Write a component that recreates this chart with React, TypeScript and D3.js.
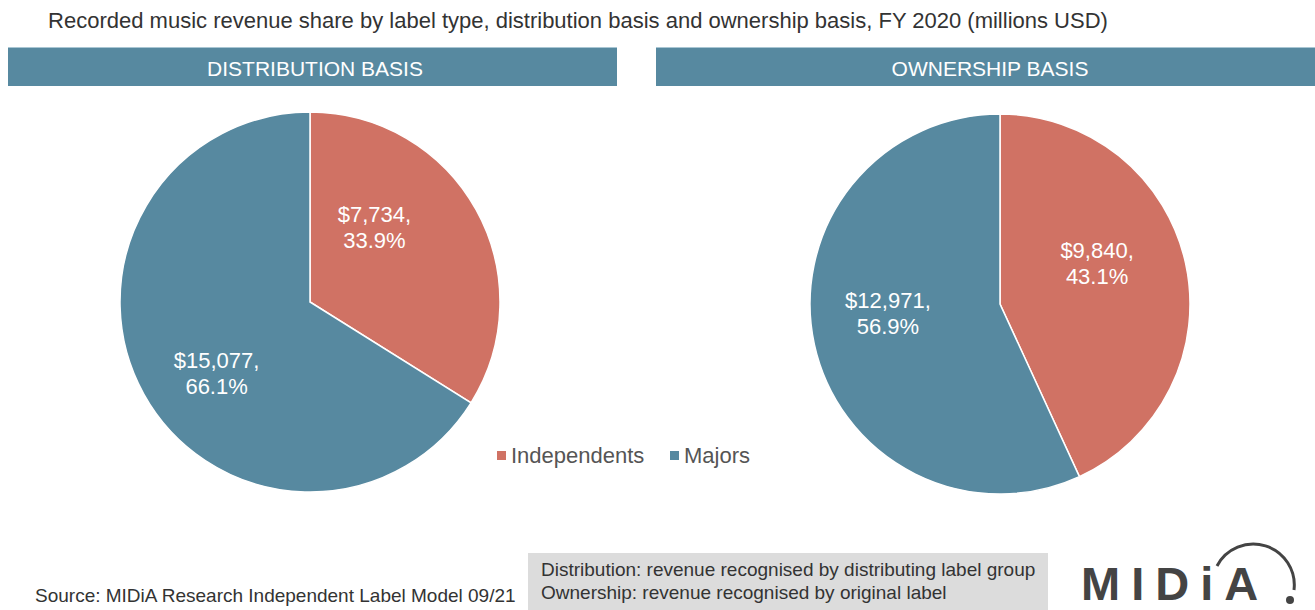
import React from "react";
import * as d3 from "d3";

const categories = ["Independents", "Majors"];
const distributionValues = [7734, 15077];
const distributionShares = ["33.9%", "66.1%"];
const ownershipValues = [9840, 12971];
const ownershipShares = ["43.1%", "56.9%"];
const panelTitles = ["DISTRIBUTION BASIS", "OWNERSHIP BASIS"];
const title =
  "Recorded music revenue share by label type, distribution basis and ownership basis, FY 2020 (millions USD)";
const source = "Source: MIDiA Research Independent Label Model 09/21";
const notes = [
  "Distribution: revenue recognised by distributing label group",
  "Ownership: revenue recognised by original label",
];

const COLORS = ["#d07264", "#5789a0"];
const FONT = "'Liberation Sans', Arial, Helvetica, sans-serif";

type PieProps = {
  cx: number;
  cy: number;
  r: number;
  values: number[];
  shares: string[];
  nudges: [number, number][];
};

function Pie({ cx, cy, r, values, shares, nudges }: PieProps) {
  const pie = d3.pie<number>().sort(null).value((d) => d);
  const arcs = pie(values);
  const arc = d3.arc<d3.PieArcDatum<number>>().innerRadius(0).outerRadius(r);
  const labelArc = d3
    .arc<d3.PieArcDatum<number>>()
    .innerRadius(r * 0.55)
    .outerRadius(r * 0.55);
  const fmt = d3.format("$,");
  return (
    <g transform={`translate(${cx},${cy})`}>
      {arcs.map((a, i) => (
        <path key={i} d={arc(a) || ""} fill={COLORS[i]} stroke="#fff" strokeWidth={1.5} />
      ))}
      {arcs.map((a, i) => {
        const [x, y] = labelArc.centroid(a);
        const lx = x + nudges[i][0];
        const ly = y + nudges[i][1];
        return (
          <text
            key={"t" + i}
            x={lx}
            y={ly - 5}
            textAnchor="middle"
            fill="#fff"
            fontSize={22}
            fontFamily={FONT}
          >
            <tspan x={lx} y={ly - 5}>{fmt(values[i]) + ","}</tspan>
            <tspan x={lx} y={ly + 21}>{shares[i]}</tspan>
          </text>
        );
      })}
    </g>
  );
}

export default function App() {
  return (
    <svg width={1315} height={610} style={{ position: "absolute", left: 0, top: 0, background: "#fff" }}>
      <rect x={0} y={0} width={1315} height={610} fill="#fff" />
      <text x={578} y={28} textAnchor="middle" fontSize={22} fill="#333" fontFamily={FONT}>
        {title}
      </text>

      <rect x={8} y={47} width={609} height={39} fill="#5789a0" />
      <rect x={656} y={47} width={659} height={39} fill="#5789a0" />
      <line x1={8} x2={617} y1={47.5} y2={47.5} stroke="#a9c6d3" />
      <line x1={656} x2={1315} y1={47.5} y2={47.5} stroke="#a9c6d3" />
      <text x={315} y={76} textAnchor="middle" fontSize={21} fill="#fff" fontFamily={FONT}>
        {panelTitles[0]}
      </text>
      <text x={990} y={76} textAnchor="middle" fontSize={21} fill="#fff" fontFamily={FONT}>
        {panelTitles[1]}
      </text>

      <Pie
        cx={310}
        cy={302}
        r={190}
        values={distributionValues}
        shares={distributionShares}
        nudges={[[-27, -24], [-2, 20]]}
      />
      <Pie
        cx={1000}
        cy={304}
        r={190}
        values={ownershipValues}
        shares={ownershipShares}
        nudges={[[-5, -19], [-10, -13]]}
      />

      {/* legend */}
      {categories.map((c, i) => {
        const x0 = i === 0 ? 497 : 670;
        return (
          <g key={c}>
            <rect x={x0} y={451} width={9} height={9} fill={COLORS[i]} />
            <text x={x0 + 14} y={463} fontSize={22} fill="#555" fontFamily={FONT}>
              {c}
            </text>
          </g>
        );
      })}

      {/* source */}
      <text x={35} y={602} fontSize={19} fill="#333" fontFamily={FONT}>
        {source}
      </text>

      {/* notes box */}
      <rect x={528} y={553} width={520} height={57} fill="#dcdcdc" />
      {notes.map((n, i) => (
        <text key={i} x={541} y={576 + i * 23} fontSize={19} fill="#333" fontFamily={FONT}>
          {n}
        </text>
      ))}

      {/* logo */}
      <text
        x={1081}
        y={600}
        fontSize={47}
        fontWeight="bold"
        letterSpacing={11}
        fill="#444"
        fontFamily={FONT}
      >
        MIDiA
      </text>
      <path d="M1217,566 A41,41 0 0 1 1294,590" fill="none" stroke="#444" strokeWidth={3} />
      <circle cx={1290} cy={600} r={4} fill="#444" />
    </svg>
  );
}
